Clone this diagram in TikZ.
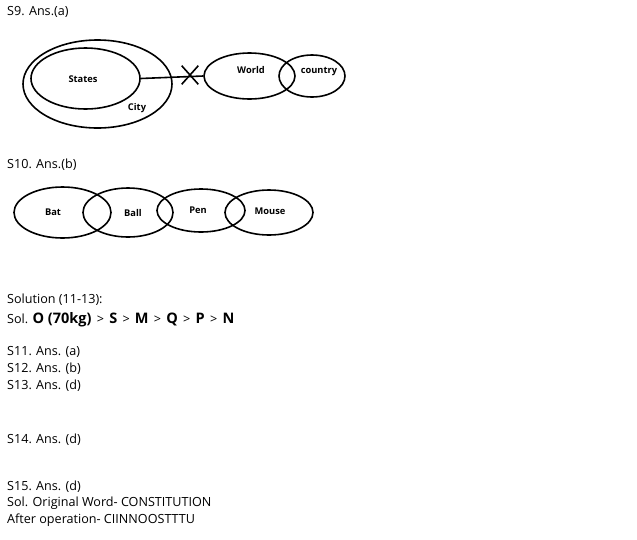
\documentclass[tikz,border=0pt]{standalone}
\usepackage{fontspec}
\setmainfont{Open Sans}
\usetikzlibrary{shapes.geometric,shapes.misc}
\newcommand{\bg}[1]{{\fontsize{14.5}{15}\selectfont\bfseries #1}}
\newcommand{\gtr}{\hspace{2pt}>\hspace{2pt}}
\tikzset{
  txt/.style={anchor=west,inner sep=0pt,font=\fontsize{12.6}{15}\selectfont},
  ell/.style={draw,ellipse,line width=1.6pt,inner sep=0pt},
  lbl/.style={inner sep=0pt,font=\fontsize{9.3}{10}\selectfont\bfseries},
}
\begin{document}
\begin{tikzpicture}[x=1pt,y=-1pt]
\useasboundingbox (0,0) rectangle (637,539);
% text lines
\node[txt] (t9) at (7,12) {S9. Ans.(a)};
\node[txt] (t10) at (7,165) {S10. Ans.(b)};
\node[txt] (tsol) at (7,300) {Solution (11-13):};
\node[txt,anchor=base west] (tsol2) at (7,323) {Sol. \bg{O (70kg)} \gtr{} \bg{S} \gtr{} \bg{M} \gtr{} \bg{Q} \gtr{} \bg{P} \gtr{} \bg{N}};
\node[txt] (t11) at (7,352) {S11. Ans. (a)};
\node[txt] (t12) at (7,369) {S12. Ans. (b)};
\node[txt] (t13) at (7,386) {S13. Ans. (d)};
\node[txt] (t14) at (7,440) {S14. Ans. (d)};
\node[txt] (t15) at (7,487) {S15. Ans. (d)};
\node[txt] (torig) at (7,503) {Sol. Original Word- CONSTITUTION};
\node[txt] (tafter) at (7,520) {After operation- CIINNOOSTTTU};
% S9 diagram
\node[ell,minimum width=149pt,minimum height=88pt] (city) at (97.5,84) {};
\node[ell,minimum width=109pt,minimum height=61pt] (states) at (85.5,78.5) {};
\node[ell,minimum width=91pt,minimum height=46pt] (world) at (249.5,76) {};
\node[ell,minimum width=66pt,minimum height=42pt] (country) at (312,76) {};
\node[draw,cross out,line width=1.6pt,minimum width=15pt,minimum height=17pt,inner sep=0pt] (xm) at (190,75) {};
\draw[line width=1.6pt] (states.east) -- (world.west);
\node[lbl] (lstates) at (83,79) {States};
\node[lbl] (lcity) at (137,108) {City};
\node[lbl] (lworld) at (251,70) {World};
\node[lbl] (lcountry) at (319,72) {country};
% S10 diagram
\node[ell,minimum width=97pt,minimum height=51pt] (bat) at (62.5,212.5) {};
\node[ell,minimum width=90pt,minimum height=49pt] (ball) at (128,212.5) {};
\node[ell,minimum width=88pt,minimum height=43pt] (pen) at (201,210.5) {};
\node[ell,minimum width=88pt,minimum height=45pt] (mouse) at (269,212.5) {};
\node[lbl] (lbat) at (53,212) {Bat};
\node[lbl] (lball) at (133,213) {Ball};
\node[lbl] (lpen) at (198,210) {Pen};
\node[lbl] (lmouse) at (270,211) {Mouse};
\end{tikzpicture}
\end{document}
